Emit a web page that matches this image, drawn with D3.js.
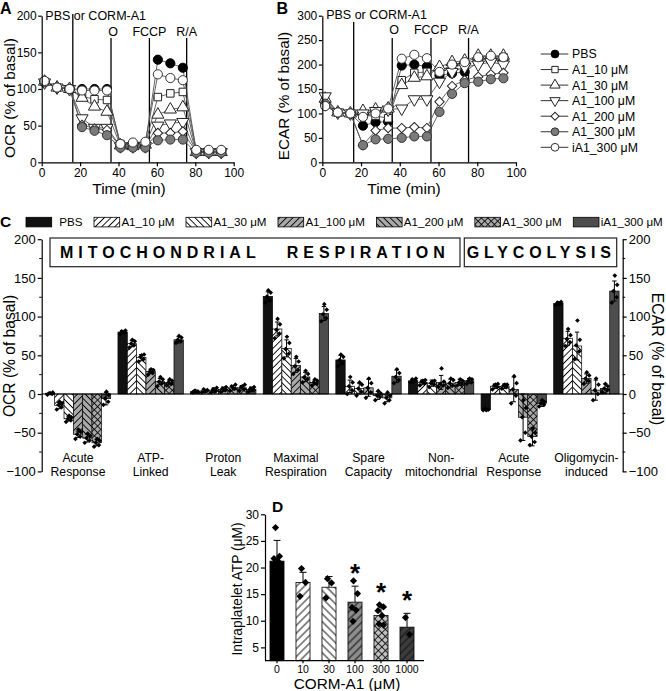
<!DOCTYPE html>
<html>
<head>
<meta charset="utf-8">
<script src="https://cdn.jsdelivr.net/npm/d3@7/dist/d3.min.js"></script>
<style>
html,body{margin:0;padding:0;background:#fff;}
svg{display:block;}
</style>
</head>
<body>
<svg id="fig" width="666" height="691"></svg>
<script>
// ================= DATA =================
const seriesNames = ["PBS","A1_10 μM","A1_30 μM","A1_100 μM","A1_200 μM","A1_300 μM","iA1_300 μM"];

// Panels A & B : kinetics
const timeMin = [1.5,8,14.5,21,27.5,34,41,47.5,54,60.5,67,73.5,80.5,87,93.5];
const injectionLabels = ["PBS or CORM-A1","O","FCCP","R/A"];
const injectionTimes = [16.2,36.1,56.1,75.5];
const ticksA_x = [0,20,40,60,80,100];
const ticksA_y = [0,50,100,150,200];
const ticksB_y = [0,50,100,150,200,250,300];

const ocrPBS    = [111,102,100,100,100,100,24,24,25,140,135,129,15,15,15];
const ocrA1_10  = [110,102,100,90,86,85,25,24,25,89,94,96,15,15,15];
const ocrA1_30  = [110,102,100,88,76,69,23,22,24,65,72,75,14,14,14];
const ocrA1_100 = [109,102,100,60,47,47,22,22,22,50,53,55,14,14,14];
const ocrA1_200 = [110,102,100,51,46,44,21,21,21,40,40,42,14,14,14];
const ocrA1_300 = [109,102,100,48,43,37,20,20,20,30,31,31,13,13,13];
const ocrIA1_300= [111,102,100,98,98,98,25,27,28,120,115,112,17,17,17];

const ecarPBS    = [120,102,100,75,82,83,198,200,196,178,182,185,205,209,208];
const ecarA1_10  = [125,102,100,95,95,90,168,183,185,190,195,200,212,215,215];
const ecarA1_30  = [130,102,100,105,108,110,158,173,176,195,205,208,218,218,218];
const ecarA1_100 = [135,102,100,100,105,108,110,129,129,165,185,195,200,205,200];
const ecarA1_200 = [115,102,100,35,65,70,70,72,70,124,156,168,175,180,183];
const ecarA1_300 = [120,102,100,35,47,48,50,53,53,103,140,162,165,170,172];
const ecarIA1_300= [115,102,100,93,100,110,212,220,213,185,200,205,215,218,215];

// Panel C : bioenergetic parameters
const cGroups = [["Acute","Response"],["ATP-","Linked"],["Proton","Leak"],["Maximal","Respiration"],
                 ["Spare","Capacity"],["Non-","mitochondrial"],["Acute","Response"],["Oligomycin-","induced"]];
const cTicks = [-100,-50,0,50,100,150,200];
const cMinorTicks = [-75,-25,25,75,125,175];
const cSectionLabels = ["MITOCHONDRIAL","RESPIRATION","GLYCOLYSIS"];

const cMeanPBS    = [1, 80, 3, 126, 44, 17, -20, 117];
const cMeanA1_10  = [-15, 65, 4, 84, 10, 15, 10, 72];
const cMeanA1_30  = [-32, 47, 5, 59, 7, 14, 10, 62];
const cMeanA1_100 = [-52, 29, 6, 37, 8, 15, 6, 20];
const cMeanA1_200 = [-57, 16, 8, 22, -2, 14, -30, 5];
const cMeanA1_300 = [-63, 15, 8, 15, -5, 15, -55, 7];
const cMeanIA1_300= [-6, 70, 6, 104, 23, 17, -12, 133];

const cSdPBS    = [1, 2, 1, 6, 6, 2, 1, 2];
const cSdA1_10  = [4, 4, 2, 9, 8, 3, 3, 9];
const cSdA1_30  = [3, 4, 3, 11, 7, 4, 3, 18];
const cSdA1_100 = [4, 3, 3, 9, 11, 9, 16, 6];
const cSdA1_200 = [5, 4, 3, 6, 5, 5, 30, 13];
const cSdA1_300 = [4, 3, 3, 3, 5, 4, 12, 6];
const cSdIA1_300= [8, 4, 3, 9, 8, 3, 4, 13];

const cRepPBS = [[-1,0,1,2,1],[77,79,81,82,80],[2,3,4,3,4],[118,121,126,131,134],[36,40,44,48,51],[15,17,19,20,16],[-21,-20,-19,-20,-21],[115,117,118,119,117]];
const cRepA1_10 = [[-20,-17,-14,-12,-10],[60,63,65,68,70],[2,4,6,5,3],[72,78,83,90,97],[0,5,10,15,22],[11,14,16,18,17],[6,9,11,13,12],[62,67,71,76,84]];
const cRepA1_30 = [[-36,-34,-32,-30,-28],[42,45,48,51,50],[2,4,6,8,5],[46,52,58,66,74],[-2,3,7,12,15],[9,12,14,17,16],[7,9,11,12,12],[45,55,63,70,95]];
const cRepA1_100 = [[-58,-55,-52,-49,-46],[25,27,29,31,32],[3,5,7,9,6],[26,31,36,42,48],[-5,2,8,14,20],[9,11,13,16,33],[-12,-2,6,14,23],[13,17,20,24,28]];
const cRepA1_200 = [[-63,-60,-57,-54,-51],[10,14,16,19,22],[4,7,10,12,8],[15,19,22,26,30],[-8,-4,-2,1,4],[8,11,14,18,20],[-60,-50,-30,-18,-8],[-8,0,5,12,20]];
const cRepA1_300 = [[-68,-66,-63,-60,-58],[11,13,15,17,19],[4,6,9,12,10],[11,13,15,17,19],[-12,-8,-5,-2,2],[11,13,15,17,19],[-66,-62,-55,-50,-45],[2,5,7,10,13]];
const cRepIA1_300 = [[-14,-10,-6,-1,3],[66,68,70,73,75],[3,5,7,9,6],[94,98,103,109,116],[14,18,22,27,32],[13,15,17,19,20],[-16,-14,-12,-10,-8],[118,125,133,141,153]];

// Panel D : intraplatelet ATP
const dDose = ["0","10","30","100","300","1000"];
const dMean = [21.2,17.2,16.3,13.5,11.0,8.8];
const dSd   = [3.9,1.9,2.0,3.0,1.9,2.6];
const dPoints = [[27.5,22.1,21.7,21.2,17.2,16.5],[19.8,17.2,14.6],[17.9,17.1,14.3],[17.5,15.1,12.5,12.0,9.9],[13.0,12.6,11.9,11.0,9.4,9.2],[10.6,7.4]];
const dSignificant = [false,false,false,true,true,true];
const dTicks = [5,10,15,20,25,30];

// ================= DRAWING =================
const FONT = '"Liberation Sans", Arial, Helvetica, sans-serif';
const svg = d3.select("#fig").attr("font-family", FONT);
svg.append("rect").attr("width",666).attr("height",691).attr("fill","#fff");
const defs = svg.append("defs");

function linePat(id, bg, angle, size, stroke, sw){
  const p = defs.append("pattern").attr("id",id).attr("patternUnits","userSpaceOnUse")
    .attr("width",size).attr("height",size).attr("patternTransform",`rotate(${angle})`);
  p.append("rect").attr("width",size).attr("height",size).attr("fill",bg);
  p.append("line").attr("x1",size/2).attr("x2",size/2).attr("y1",-1).attr("y2",size+1)
    .attr("stroke",stroke||"#000").attr("stroke-width",sw||0.9);
}
function crossPat(id, bg, size, stroke, sw){
  const p = defs.append("pattern").attr("id",id).attr("patternUnits","userSpaceOnUse")
    .attr("width",size).attr("height",size).attr("patternTransform","rotate(45)");
  p.append("rect").attr("width",size).attr("height",size).attr("fill",bg);
  p.append("line").attr("x1",size/2).attr("x2",size/2).attr("y1",-1).attr("y2",size+1).attr("stroke",stroke||"#000").attr("stroke-width",sw||0.8);
  p.append("line").attr("y1",size/2).attr("y2",size/2).attr("x1",-1).attr("x2",size+1).attr("stroke",stroke||"#000").attr("stroke-width",sw||0.8);
}
linePat("hfw","#fff",45,4.6);
linePat("hbw","#fff",-45,4.6);
linePat("hfg","#a9a9a9",45,4.6);
linePat("hbg","#a9a9a9",-45,4.6);
crossPat("hxg","#a9a9a9",4.6);
linePat("dfw","#fff",45,5.5);
linePat("dbw","#fff",-45,5.5);
linePat("dfg","#8c8c8c",45,5.5);
crossPat("dxg","#c0c0c0",5);
linePat("dfd","#3c3c3c",45,5.5,"#111",1);

function styleAxis(g, fs){
  g.attr("font-family", FONT).attr("font-size", fs);
  g.select(".domain").attr("stroke","#000").attr("stroke-width",1.2);
  g.selectAll(".tick line").attr("stroke","#000").attr("stroke-width",1.2);
  g.selectAll(".tick text").attr("fill","#000");
  return g;
}

const markerStyle = [
  {type:d3.symbolCircle, size:66, fill:"#000", stroke:"#000", rot:0},
  {type:d3.symbolSquare, size:56, fill:"#fff", stroke:"#222", rot:0},
  {type:d3.symbolTriangle, size:64, fill:"#fff", stroke:"#222", rot:0},
  {type:d3.symbolTriangle, size:64, fill:"#fff", stroke:"#222", rot:180},
  {type:d3.symbolSquare, size:44, fill:"#fff", stroke:"#222", rot:45},
  {type:d3.symbolCircle, size:66, fill:"#7a7a7a", stroke:"#333", rot:0},
  {type:d3.symbolCircle, size:66, fill:"#fff", stroke:"#333", rot:0},
];

function linePanel(o){
  const g = svg.append("g");
  const {x,y} = o;
  // injection lines and labels
  injectionTimes.forEach((t,i)=>{
    g.append("line").attr("x1",x(t)).attr("x2",x(t))
      .attr("y1", i===0 ? o.line1Top : o.lineTop).attr("y2", y(0))
      .attr("stroke","#000").attr("stroke-width",1.3);
    if(i===0){
      g.append("text").attr("x",x(t)-27.5).attr("y",o.lab1Y).attr("font-size",12.5).text(injectionLabels[i]);
    } else {
      g.append("text").attr("x",x(t)+(i===1?2:0)).attr("y",o.labY).attr("text-anchor","middle")
        .attr("font-size", i===1?12.5:12.5).text(injectionLabels[i]);
    }
  });
  // series lines
  const line = d3.line().x((d,i)=>x(timeMin[i])).y(d=>y(d));
  o.data.forEach(vals=>{
    g.append("path").attr("d",line(vals)).attr("fill","none").attr("stroke","#555").attr("stroke-width",0.9);
  });
  // markers
  o.data.forEach((vals,s)=>{
    const ms = markerStyle[s];
    const sym = d3.symbol().type(ms.type).size(ms.size);
    g.selectAll(null).data(vals).join("path")
      .attr("d",sym)
      .attr("transform",(d,i)=>`translate(${x(timeMin[i])},${y(d)}) rotate(${ms.rot})`)
      .attr("fill",ms.fill).attr("stroke",ms.stroke).attr("stroke-width",1);
  });
  // axes
  styleAxis(g.append("g").attr("transform",`translate(0,${y(0)})`)
    .call(d3.axisBottom(x).tickValues(ticksA_x).tickSize(4).tickPadding(2).tickSizeOuter(0)),12);
  styleAxis(g.append("g").attr("transform",`translate(${x(0)},0)`)
    .call(d3.axisLeft(y).tickValues(o.yTicks).tickSize(3.5).tickPadding(1.5).tickSizeOuter(0)),12);
  // titles
  g.append("text").attr("x",o.xTitleX).attr("y",194).attr("text-anchor","middle").attr("font-size",15.5).text("Time (min)");
  g.append("text").attr("transform",`translate(${o.yTitleX},${o.yTitleY}) rotate(-90)`).attr("text-anchor","middle")
    .attr("font-size",15.3).text(o.yTitle);
  g.append("text").attr("x",o.letterX).attr("y",13.5).attr("font-size",16).attr("font-weight","bold").text(o.letter);
}

const xA = d3.scaleLinear().domain([0,100]).range([41.7,233.7]);
const yA = d3.scaleLinear().domain([0,200]).range([162.3,15.7]);
linePanel({x:xA,y:yA,data:[ocrPBS,ocrA1_10,ocrA1_30,ocrA1_100,ocrA1_200,ocrA1_300,ocrIA1_300],
  yTicks:ticksA_y,line1Top:14,lineTop:38,lab1Y:20,labY:35.5,xTitleX:129,yTitleX:15,yTitleY:98,
  yTitle:"OCR (% of basal)",letter:"A",letterX:0});

const xB = d3.scaleLinear().domain([0,100]).range([322.3,516]);
const yB = d3.scaleLinear().domain([0,300]).range([162.3,15.7]);
linePanel({x:xB,y:yB,data:[ecarPBS,ecarA1_10,ecarA1_30,ecarA1_100,ecarA1_200,ecarA1_300,ecarIA1_300],
  yTicks:ticksB_y,line1Top:22,lineTop:38,lab1Y:19,labY:33.5,xTitleX:404,yTitleX:289,yTitleY:96,
  yTitle:"ECAR (% of basal)",letter:"B",letterX:276.5});

// legend for A/B
{
  const g = svg.append("g");
  seriesNames.forEach((n,i)=>{
    const yy = 54 + i*15.55;
    g.append("line").attr("x1",540.7).attr("x2",568.3).attr("y1",yy).attr("y2",yy).attr("stroke","#333").attr("stroke-width",1);
    const ms = markerStyle[i];
    g.append("path").attr("d",d3.symbol().type(ms.type).size(ms.size*0.72)())
      .attr("transform",`translate(555,${yy}) rotate(${ms.rot})`)
      .attr("fill",ms.fill).attr("stroke",ms.stroke).attr("stroke-width",1);
    g.append("text").attr("x",572).attr("y",yy+4.4).attr("font-size",12.3).text(n);
  });
}

// ---------- Panel C ----------
const cMeans = [cMeanPBS,cMeanA1_10,cMeanA1_30,cMeanA1_100,cMeanA1_200,cMeanA1_300,cMeanIA1_300];
const cSds = [cSdPBS,cSdA1_10,cSdA1_30,cSdA1_100,cSdA1_200,cSdA1_300,cSdIA1_300];
const cReps = [cRepPBS,cRepA1_10,cRepA1_30,cRepA1_100,cRepA1_200,cRepA1_300,cRepIA1_300];
const cFills = ["#111","url(#hfw)","url(#hbw)","url(#hfg)","url(#hbg)","url(#hxg)","#4d4d4d"];
{
  const g = svg.append("g");
  const yC = d3.scaleLinear().domain([-100,200]).range([471.4,239.2]);
  const xC = d3.scaleBand().domain(d3.range(cGroups.length)).range([41.7,622.7]).paddingInner(0.1).paddingOuter(0.05);
  const xS = d3.scaleBand().domain(d3.range(seriesNames.length)).range([0,xC.bandwidth()]);

  // legend
  let lx = 26;
  seriesNames.forEach((n,i)=>{
    g.append("rect").attr("x",lx).attr("y",217.3).attr("width",25.7).attr("height",9.6)
      .attr("fill",cFills[i]).attr("stroke","#000").attr("stroke-width",0.8);
    const off = i===0 ? 33.3 : 27.4;
    const t = g.append("text").attr("x",lx+off).attr("y",226.3).attr("font-size",11.6).text(n);
    lx += off + t.node().getComputedTextLength() + 11.5;
  });
  g.append("text").attr("x",0).attr("y",227).attr("font-size",15.5).attr("font-weight","bold").text("C");

  // section boxes
  g.append("rect").attr("x",50).attr("y",238).attr("width",410).attr("height",28.7).attr("fill","#fff").attr("stroke","#222").attr("stroke-width",1.2);
  g.append("rect").attr("x",464.3).attr("y",238).attr("width",152.4).attr("height",28.7).attr("fill","#fff").attr("stroke","#222").attr("stroke-width",1.2);
  [[cSectionLabels[0],60,5.0],[cSectionLabels[1],286.7,5.0],[cSectionLabels[2],466.7,4.9]].forEach(([s,xx,ls])=>{
    g.append("text").attr("x",xx).attr("y",258.3).attr("font-size",16).attr("font-weight","bold")
      .attr("letter-spacing",ls).text(s);
  });

  // bars
  cMeans.forEach((means,s)=>{
    g.selectAll(null).data(means).join("rect")
      .attr("x",(d,i)=>xC(i)+xS(s)).attr("width",xS.bandwidth())
      .attr("y",d=>yC(Math.max(0,d))).attr("height",d=>Math.abs(yC(d)-yC(0)))
      .attr("fill",cFills[s]).attr("stroke","#000").attr("stroke-width",0.7);
  });
  // error bars
  const jit = [-2.6,2.2,-0.9,2.8,0.4];
  cMeans.forEach((means,s)=>{
    means.forEach((m,i)=>{
      const cx = xC(i)+xS(s)+xS.bandwidth()/2, sd = cSds[s][i];
      g.append("line").attr("x1",cx).attr("x2",cx).attr("y1",yC(m-sd)).attr("y2",yC(m+sd)).attr("stroke","#000").attr("stroke-width",1);
      [m-sd,m+sd].forEach(v=>g.append("line").attr("x1",cx-2.2).attr("x2",cx+2.2).attr("y1",yC(v)).attr("y2",yC(v)).attr("stroke","#000").attr("stroke-width",1));
      const sym = d3.symbol().type(d3.symbolSquare).size(11);
      cReps[s][i].forEach((v,k)=>{
        g.append("path").attr("d",sym).attr("transform",`translate(${cx+jit[k]},${yC(v)}) rotate(45)`).attr("fill","#000");
      });
    });
  });
  // zero line
  g.append("line").attr("x1",41.7).attr("x2",622.7).attr("y1",yC(0)).attr("y2",yC(0)).attr("stroke","#000").attr("stroke-width",1.2);
  // axes
  styleAxis(g.append("g").attr("transform","translate(41.7,0)")
    .call(d3.axisLeft(yC).tickValues(cTicks).tickSize(4).tickPadding(2).tickSizeOuter(0)),13);
  styleAxis(g.append("g").attr("transform","translate(622.7,0)")
    .call(d3.axisRight(yC).tickValues(cTicks).tickSize(4).tickPadding(2).tickSizeOuter(0)),13);
  cMinorTicks.forEach(v=>{
    g.append("line").attr("x1",39.2).attr("x2",41.7).attr("y1",yC(v)).attr("y2",yC(v)).attr("stroke","#000").attr("stroke-width",1);
    g.append("line").attr("x1",622.7).attr("x2",625.2).attr("y1",yC(v)).attr("y2",yC(v)).attr("stroke","#000").attr("stroke-width",1);
  });
  // category labels
  cGroups.forEach((lab,i)=>{
    const cx = xC(i)+xC.bandwidth()/2;
    g.append("text").attr("x",cx).attr("y",461.5).attr("text-anchor","middle").attr("font-size",12.2).text(lab[0]);
    g.append("text").attr("x",cx).attr("y",476.3).attr("text-anchor","middle").attr("font-size",12.2).text(lab[1]);
  });
  // axis titles
  g.append("text").attr("transform","translate(15,356) rotate(-90)").attr("text-anchor","middle").attr("font-size",15.6).text("OCR (% of basal)");
  g.append("text").attr("transform","translate(651.5,359) rotate(90)").attr("text-anchor","middle").attr("font-size",15.8).text("ECAR (% of basal)");
}

// ---------- Panel D ----------
const dFills = ["#000","url(#dfw)","url(#dbw)","url(#dfg)","url(#dxg)","url(#dfd)"];
{
  const g = svg.append("g");
  const yD = d3.scaleLinear().domain([2.5,30]).range([660.7,514.3]);
  const xD = d3.scaleBand().domain(dDose).range([264,420]).paddingInner(0.46).paddingOuter(0.23);
  g.selectAll(null).data(dMean).join("rect")
    .attr("x",(d,i)=>xD(dDose[i])).attr("width",xD.bandwidth())
    .attr("y",d=>yD(d)).attr("height",d=>yD(2.5)-yD(d))
    .attr("fill",(d,i)=>dFills[i]).attr("stroke","#000").attr("stroke-width",0.8);
  dMean.forEach((m,i)=>{
    const cx = xD(dDose[i])+xD.bandwidth()/2;
    const top = yD(m+dSd[i]);
    g.append("line").attr("x1",cx).attr("x2",cx).attr("y1",yD(m)).attr("y2",top).attr("stroke","#000").attr("stroke-width",1);
    g.append("line").attr("x1",cx-3.5).attr("x2",cx+3.5).attr("y1",top).attr("y2",top).attr("stroke","#000").attr("stroke-width",1);
    const jitD = [-1.5,2.5,-3,1,-2,2.5];
    const sym = d3.symbol().type(d3.symbolSquare).size(26);
    dPoints[i].forEach((v,k)=>{
      g.append("path").attr("d",sym).attr("transform",`translate(${cx+jitD[k]},${yD(v)}) rotate(45)`).attr("fill","#000");
    });
    if(dSignificant[i]){
      g.append("text").attr("x",cx).attr("y",top-4).attr("text-anchor","middle").attr("font-size",26).attr("font-weight","bold").text("*");
    }
  });
  const ax = styleAxis(g.append("g").attr("transform",`translate(0,${yD(2.5)})`)
    .call(d3.axisBottom(xD).tickSize(2.5).tickPadding(2.5).tickSizeOuter(0)),10.5);
  ax.select(".domain").remove();
  g.append("line").attr("x1",265).attr("x2",424).attr("y1",yD(2.5)).attr("y2",yD(2.5)).attr("stroke","#000").attr("stroke-width",1.2);
  styleAxis(g.append("g").attr("transform","translate(265,0)")
    .call(d3.axisLeft(yD).tickValues(dTicks).tickSize(4).tickPadding(2).tickSizeOuter(0)),12);
  g.append("text").attr("x",272).attr("y",512).attr("font-size",15.5).attr("font-weight","bold").text("D");
  g.append("text").attr("transform","translate(241.5,589) rotate(-90)").attr("text-anchor","middle").attr("font-size",13.8).text("Intraplatelet ATP (μM)");
  g.append("text").attr("x",347).attr("y",688.5).attr("text-anchor","middle").attr("font-size",15.3).text("CORM-A1 (μM)");
}
</script>
</body>
</html>
